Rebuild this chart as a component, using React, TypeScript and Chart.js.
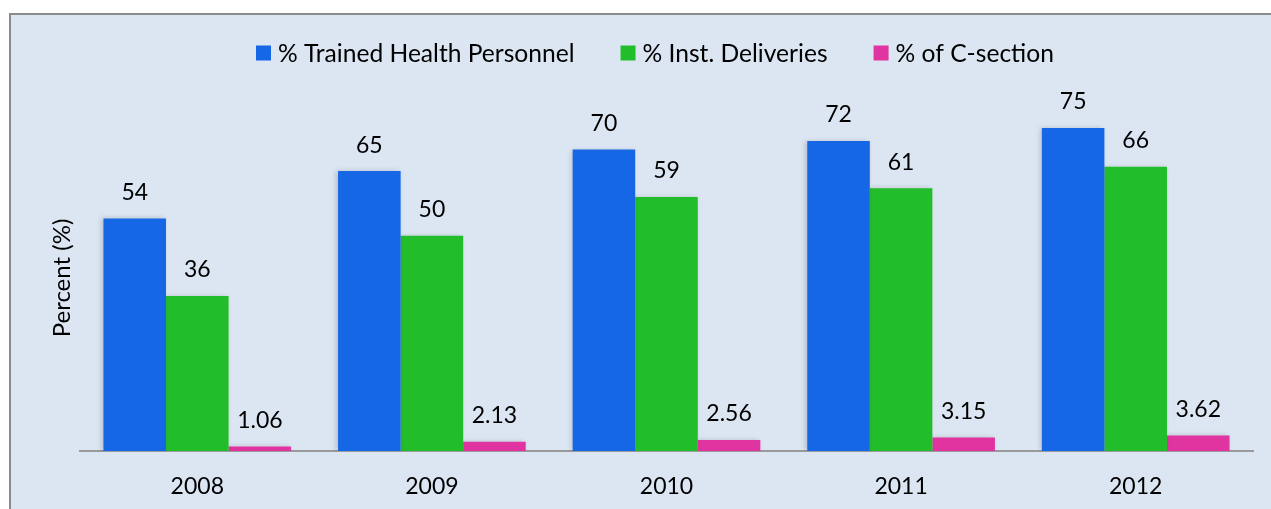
import React, { useEffect, useRef } from "react";
import { Chart, registerables } from "chart.js";

Chart.register(...registerables);

const categories = ["2008", "2009", "2010", "2011", "2012"];
const trainedPersonnel = [54, 65, 70, 72, 75];
const instDeliveries = [36, 50, 59, 61, 66];
const cSection = [1.06, 2.13, 2.56, 3.15, 3.62];
const seriesNames = ["% Trained Health Personnel", "% Inst. Deliveries", "% of C-section"];
const seriesColors = ["#1567e6", "#21bd2b", "#e035a0"];
const yAxisTitle = "Percent (%)";

const FONT = "Lato, 'Open Sans', sans-serif";

export default function App() {
  const ref = useRef<HTMLCanvasElement | null>(null);

  useEffect(() => {
    if (!ref.current) return;

    const labelsPlugin = {
      id: "valueLabels",
      afterDatasetsDraw(chart: any) {
        const ctx = chart.ctx;
        ctx.save();
        ctx.shadowColor = "transparent";
        ctx.font = `23px ${FONT}`;
        ctx.fillStyle = "#000";
        ctx.textAlign = "center";
        ctx.textBaseline = "middle";
        chart.data.datasets.forEach((ds: any, i: number) => {
          const meta = chart.getDatasetMeta(i);
          meta.data.forEach((bar: any, j: number) => {
            const v = ds.data[j];
            ctx.fillText(String(v), bar.x, bar.y - 26);
          });
        });
        ctx.restore();
      },
    };

    const shadowPlugin = {
      id: "barShadow",
      beforeDatasetsDraw(chart: any) {
        const ctx = chart.ctx;
        ctx.save();
        ctx.shadowColor = "rgba(0,0,0,0.18)";
        ctx.shadowBlur = 5;
        ctx.shadowOffsetX = -2;
        ctx.shadowOffsetY = 0;
      },
      afterDatasetsDraw(chart: any) {
        chart.ctx.restore();
      },
    };

    const legendAndTitlePlugin = {
      id: "customLegend",
      afterDraw(chart: any) {
        const ctx = chart.ctx;
        ctx.save();
        ctx.font = `24.6px ${FONT}`;
        ctx.textBaseline = "middle";
        ctx.textAlign = "left";
        let x = 256;
        const y = 53;
        seriesNames.forEach((name, i) => {
          ctx.fillStyle = seriesColors[i];
          ctx.fillRect(x, y - 7.5, 15, 15);
          ctx.fillStyle = "#000";
          ctx.fillText(name, x + 22, y + 1);
          x += 22 + ctx.measureText(name).width + 46;
        });
        ctx.font = `24px ${FONT}`;
        ctx.translate(62, 278);
        ctx.rotate(-Math.PI / 2);
        ctx.textAlign = "center";
        ctx.fillText(yAxisTitle, 0, 0);
        ctx.restore();
      },
    };

    const chart = new Chart(ref.current, {
      type: "bar",
      data: {
        labels: categories,
        datasets: [
          { label: seriesNames[0], data: trainedPersonnel, backgroundColor: seriesColors[0] },
          { label: seriesNames[1], data: instDeliveries, backgroundColor: seriesColors[1] },
          { label: seriesNames[2], data: cSection, backgroundColor: seriesColors[2] },
        ],
      },
      options: {
        responsive: false,
        animation: false,
        layout: { padding: { left: 80, right: 18, top: 106.5, bottom: 10 } },
        datasets: { bar: { categoryPercentage: 0.8, barPercentage: 1.0 } },
        plugins: {
          legend: { display: false },
          tooltip: { enabled: false },
        },
        scales: {
          x: {
            grid: { display: false, drawTicks: false },
            border: { display: true, color: "#9a9a9a", width: 2 },
            ticks: { color: "#000", font: { family: FONT, size: 23 }, padding: 22 },
            afterFit(scale: any) {
              scale.height = 48;
            },
          },
          y: {
            display: false,
            min: 0,
            max: 80,
          },
        },
      },
      plugins: [shadowPlugin, labelsPlugin, legendAndTitlePlugin],
    });

    return () => chart.destroy();
  }, []);

  return (
    <div style={{ position: "fixed", left: 0, top: 0, width: 1271, height: 509, background: "#fff" }}>
      <div
        style={{
          position: "absolute",
          left: 9,
          top: 13,
          width: 1270,
          height: 500,
          background: "#dce6f2",
          borderLeft: "2px solid #8c8c8c",
          borderTop: "2px solid #8c8c8c",
        }}
      />
      <canvas ref={ref} width={1271} height={509} style={{ position: "absolute", left: 0, top: 0 }} />
    </div>
  );
}
